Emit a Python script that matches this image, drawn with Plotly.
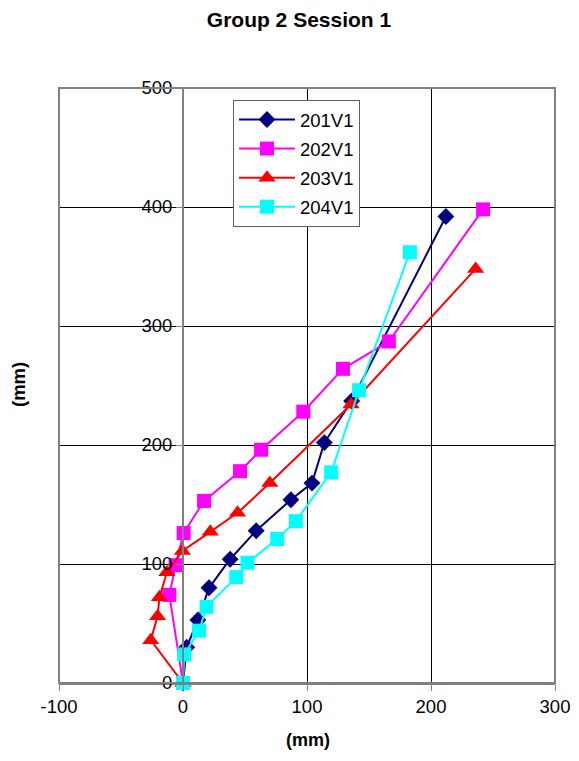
import plotly.graph_objects as go

# series (x, y in mm)
x_201 = [0, 3, 12, 21, 38, 59, 87, 104, 114, 136, 212]
y_201 = [0, 30, 53, 80, 104, 128, 154, 168, 202, 237, 392]

x_202 = [0, -11, -6, 0.5, 17, 46, 63, 97, 129, 166, 242]
y_202 = [0, 74, 99, 126, 153, 178, 196, 228, 264, 287, 398]

x_203 = [0, -26, -20.5, -19, -13, -0.5, 22, 44, 70, 135.5, 236]
y_203 = [0, 36, 56, 72, 93, 111, 127, 143, 168, 234, 348]

x_204 = [0, 1, 13, 19, 43, 52, 76, 91, 119.5, 142, 183]
y_204 = [0, 24, 44, 64, 89, 101, 121, 136, 177, 246, 362]

x_ticks = [-100, 0, 100, 200, 300]
x_tick_labels = ["-100", "0", "100", "200", "300"]
y_ticks = [0, 100, 200, 300, 400, 500]

names = ["201V1", "202V1", "203V1", "204V1"]
colors = ["#000080", "#FF00FF", "#FF0000", "#00FFFF"]
symbols = ["diamond", "square", "triangle-up", "square"]
sizes = [13, 14, 15, 14]

FONT = "Arial, Liberation Sans, sans-serif"

# the page body has an 8px margin on every side, so the figure is drawn
# smaller and the margins shifted to keep the plot where the reference has it
W, H = 563, 745
L, R, T, B = 51, 16, 80, 70
plot_w = W - L - R
plot_h = H - T - B
OX, OY = 8, 8  # page offset of the figure


def px_x(px):
    return (px - OX - L) / plot_w


def px_y(py):
    return (H - B - (py - OY)) / plot_h


fig = go.Figure()
for name, xs, ys, color, symbol, size in zip(
    names,
    [x_201, x_202, x_203, x_204],
    [y_201, y_202, y_203, y_204],
    colors,
    symbols,
    sizes,
):
    fig.add_trace(
        go.Scatter(
            x=xs,
            y=ys,
            mode="lines+markers",
            name=name,
            legendgroup=name,
            line=dict(color=color, width=2),
            marker=dict(symbol=symbol, size=size, color=color, line=dict(width=0)),
            cliponaxis=False,
        )
    )

fig.update_layout(
    width=W,
    height=H,
    margin=dict(l=L, r=R, t=T, b=B, autoexpand=False),
    paper_bgcolor="white",
    plot_bgcolor="white",
    font=dict(family=FONT, size=18.5, color="black"),
    title=dict(
        text="<b>Group 2 Session 1</b>",
        x=(299 - OX) / W,
        xref="container",
        xanchor="center",
        y=1 - (20 - OY) / H,
        yref="container",
        yanchor="middle",
        font=dict(size=21),
    ),
    showlegend=True,
    legend=dict(
        x=px_x(233),
        y=px_y(100),
        xanchor="left",
        yanchor="top",
        bgcolor="white",
        bordercolor="#606060",
        borderwidth=1,
        tracegroupgap=2,
        itemwidth=56,
        font=dict(size=18.5),
    ),
    xaxis=dict(
        range=[-100, 300],
        tickvals=x_ticks,
        ticktext=x_tick_labels,
        ticklabeloverflow="allow",
        automargin=False,
        showgrid=True,
        gridcolor="black",
        gridwidth=1,
        zeroline=False,
        showline=True,
        linecolor="#808080",
        linewidth=2,
        ticks="outside",
        ticklen=6,
        tickcolor="#808080",
        tickwidth=1,
    ),
    yaxis=dict(
        range=[0, 500],
        tickvals=y_ticks,
        automargin=False,
        showgrid=True,
        gridcolor="black",
        gridwidth=1,
        zeroline=False,
        anchor="free",
        position=0.25,
        showline=True,
        linecolor="#808080",
        linewidth=2,
        ticks="outside",
        ticklen=6,
        tickcolor="#808080",
        tickwidth=1,
    ),
    shapes=[
        dict(
            type="rect",
            xref="paper",
            yref="paper",
            x0=0,
            x1=1,
            y0=0,
            y1=1,
            line=dict(color="#808080", width=2),
            layer="above",
        )
    ],
    annotations=[
        dict(
            text="<b>(mm)</b>",
            xref="paper",
            yref="paper",
            x=px_x(308),
            y=px_y(752),
            xanchor="center",
            yanchor="bottom",
            showarrow=False,
            font=dict(size=18),
        ),
        dict(
            text="<b>(mm)</b>",
            xref="paper",
            yref="paper",
            x=px_x(18),
            y=px_y(385),
            xanchor="center",
            yanchor="middle",
            textangle=-90,
            showarrow=False,
            font=dict(size=18.5),
        ),
    ],
)

fig.write_html("out.html")
